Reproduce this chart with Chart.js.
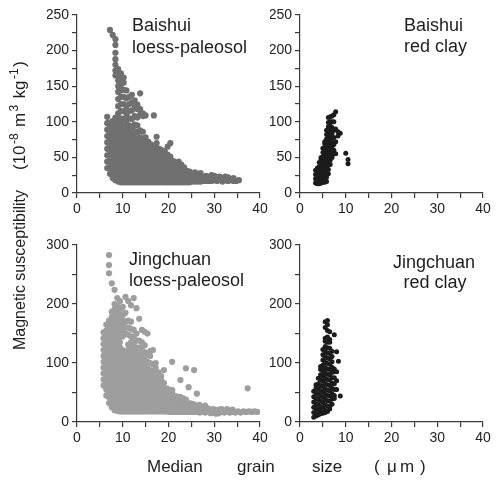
<!DOCTYPE html>
<html>
<head>
<meta charset="utf-8">
<script src="https://cdn.jsdelivr.net/npm/chart.js"></script>
<style>
  html, body { margin: 0; padding: 0; background: #fff; }
  #wrap { position: relative; width: 499px; height: 481px; }
  #wrap canvas { position: absolute; left: 0; top: 0; }
</style>
</head>
<body>
<div id="wrap">
  <canvas id="c1" width="499" height="481"></canvas>
  <canvas id="c2" width="499" height="481"></canvas>
  <canvas id="c3" width="499" height="481"></canvas>
  <canvas id="c4" width="499" height="481"></canvas>
</div>
<script>
// median grain size (x, um) columns and susceptibility values (y)
const bsLoessX = [6.6, 7.2, 7.8, 8.4, 9.0, 9.6, 10.2, 10.8, 11.4, 12.0, 12.6, 13.2, 13.8, 14.4, 15.0, 15.6, 16.2, 16.8, 17.4, 18.0, 18.6, 19.2, 19.8, 20.4, 21.0, 21.6, 22.2, 22.8, 23.4, 24.0, 24.6, 25.2, 25.8, 26.4, 27.0, 27.6, 28.2, 28.8, 29.4, 30.0, 30.6, 31.2, 31.8, 32.4, 33.0, 33.6, 34.2, 34.8, 35.4];
const bsLoessY = [
  [35,44,53,62,71,80,89,98,107],
  [27,35,43,51,59,67,75,83,91,99,229],
  [21,29,37,45,53,61,69,77,85,93,101,222],
  [18,26,34,42,50,58,66,74,82,90,98,106,165,172,180,188,197,208,216],
  [16,23,31,39,47,55,63,71,79,87,95,103,112,122,132,142,150,158,166,174],
  [15,19,26,33,41,49,57,65,73,81,89,97,105,115,125,135,144,152,160,168],
  [15,22,30,38,46,54,62,70,78,86,94,104,115,125,135,145,155,162],
  [15,19,27,35,43,51,59,67,75,83,92,101,111,122,133,144],
  [15,22,30,38,46,54,62,70,78,86,95,105,115,125,135],
  [15,19,27,35,43,51,59,67,75,83,92,104,116,127,138],
  [15,22,30,38,46,54,62,70,78,87,96,108,120,130],
  [15,19,27,35,43,51,59,67,75,85,95,106,118,124],
  [15,22,30,38,46,54,62,70,78,88,110,118,140],
  [15,19,27,35,43,51,59,67,76,86,108,112],
  [15,22,30,38,46,54,62,70,78,109],
  [15,19,27,35,43,51,59,67,72],
  [15,22,30,38,46,54,62,68],
  [15,19,27,35,43,51,59,65,109],
  [15,22,30,38,46,54,62,70,79],
  [15,19,27,35,43,51,59,62],
  [15,22,30,38,46,54,60],
  [15,19,27,35,43,51,58],
  [15,22,30,38,46,54,65],
  [15,19,27,35,43,51,70],
  [15,22,30,38,45],
  [15,19,27,35,40],
  [15,22,30,38,44],
  [15,19,27,35,40],
  [15,22,30,36],
  [15,19,27,31],
  [15,22,30],
  [16,20,27],
  [16,23,29],
  [16,21,26],
  [16,23,28],
  [17,22],
  [17,24],
  [17,22],
  [17,25],
  [18,24],
  [17,22],
  [18,23],
  [16,21],
  [18,23],
  [17,22],
  [18],
  [17,21],
  [17],
  [18]
];

const bsClayX = [3.4, 3.8, 4.2, 4.6, 5.0, 5.4, 5.8, 6.2, 6.6, 7.0, 7.4, 7.8, 8.3, 8.8, 10.0, 10.5];
const bsClayY = [
  [14,20,26,32],
  [13,17,23,29,35],
  [13,19,25,31,37,43],
  [14,17,23,29,35,41,47,50],
  [15,21,27,33,39,45,51,57,63],
  [15,18,21,27,33,39,45,51,57,63,69,72],
  [16,22,28,34,40,46,52,58,64,70,76,82,88],
  [27,33,39,45,51,57,63,69,75,81,87,93,99,106],
  [40,46,52,58,64,70,76,82,88,94,100,107],
  [50,53,59,65,71,77,84,92,100,108],
  [60,68,78,88,100,110],
  [55,72,90,114],
  [80,86],
  [84],
  [56],
  [41,47]
];

const jcLoessX = [5.8, 6.4, 7.0, 7.6, 8.2, 8.8, 9.4, 10.0, 10.6, 11.2, 11.8, 12.4, 13.0, 13.6, 14.2, 14.8, 15.4, 16.0, 16.6, 17.2, 17.8, 18.4, 19.0, 19.6, 20.2, 20.8, 21.4, 22.0, 22.6, 23.2, 23.8, 24.4, 25.0, 25.6, 26.2, 26.8, 27.4, 28.0, 28.6, 29.2, 29.8, 30.4, 31.0, 31.6, 32.2, 32.8, 33.4, 34.0, 34.6, 35.2, 35.8, 36.4, 37.0, 37.3, 37.6, 38.2, 38.8, 39.4];
const jcLoessY = [
  [62,72,82,92,102,112,122,132,142,152],
  [45,55,65,75,85,95,105,115,125,135,145,155,165],
  [32,42,52,62,72,82,92,102,112,122,132,142,152,162,172,252,266,283],
  [25,34,43,52,61,70,79,88,97,106,115,124,133,142,151,160,169,178,187,235],
  [20,29,38,47,56,65,74,83,92,101,110,119,128,137,146,155,164,173,182,191,200,224],
  [19,24,33,42,51,60,69,78,87,96,105,114,123,132,141,150,159,168,177,186,196,210],
  [18,27,36,45,54,63,72,81,90,99,108,117,126,135,144,153,162,171,180,190,205],
  [18,23,32,41,50,59,68,77,86,95,104,113,122,145,154,163,172,181,195],
  [18,27,36,45,54,63,72,81,90,99,108,117,150,160,170,185,212],
  [18,23,32,41,50,59,68,77,86,95,104,113,122,131,148,160,172,205],
  [18,27,36,45,54,63,72,81,90,99,108,117,126,135,145,158,170,198],
  [18,23,32,41,50,59,68,77,86,95,104,113,122,132,144,156,210],
  [18,27,36,45,54,63,72,81,90,99,108,117,126,138,150,193],
  [18,23,32,41,50,59,68,77,86,95,104,114,126,138,175],
  [18,27,36,45,54,63,72,81,90,99,110,122,135,156],
  [18,23,32,41,50,59,68,77,86,96,106,118,130,153],
  [18,27,36,45,54,63,72,81,91,102,115,150],
  [18,23,32,41,50,59,68,78,88,100,112,120],
  [18,27,36,45,54,63,73,85,98,122],
  [18,23,32,41,50,59,69,80,92,100],
  [18,27,36,45,54,64,76,84],
  [18,23,32,41,50,60,71,78],
  [18,27,36,45,55,66,88],
  [18,23,32,41,51,57],
  [17,26,35,45,55],
  [17,22,31,40,49,54,102],
  [17,26,35,44],
  [17,22,31,39,43],
  [17,26,35,42,71],
  [17,22,30,37,40],
  [17,25,33,38,91],
  [17,21,29,32,59],
  [17,25,31],
  [17,21,28,30,88],
  [17,24,48],
  [16,21,27,29],
  [17,23],
  [16,20,26,28],
  [17,23],
  [15,21],
  [16,22],
  [14,20],
  [15,21],
  [17,22],
  [16],
  [17,22],
  [16],
  [17,21],
  [16],
  [18],
  [16],
  [18],
  [17],
  [57],
  [18],
  [17],
  [18],
  [17]
];

const jcClayX = [3.0, 3.5, 4.0, 4.5, 5.0, 5.5, 6.0, 6.5, 7.0, 7.5, 8.0, 8.4, 8.8];
const jcClayY = [
  [8,16,25,34,43,52],
  [10,14,22,31,40,49,58,63],
  [12,20,29,38,47,56,65,74],
  [14,18,26,35,44,53,62,71,80,89,94],
  [15,24,33,42,51,60,69,78,87,96,105,114,123],
  [16,20,29,38,47,56,65,74,83,92,101,110,119,128,137,142,160,170],
  [18,27,36,45,54,63,72,81,90,99,108,117,126,135,144,155,165,172],
  [22,26,35,44,53,62,71,80,89,98,107,116,125,135,140,153],
  [30,39,48,57,66,75,84,93,102,111,120],
  [40,45,55,65,75,85,90,148],
  [55,70,85,119],
  [103],
  [44]
];

const xTicks = [0, 10, 20, 30, 40];

function toPoints(xs, ys) {
  const pts = [];
  xs.forEach((x, i) => ys[i].forEach(y => pts.push({ x: x, y: y })));
  return pts;
}

const W = 499, H = 481;
const axisColor = '#3a3a3a';
const tickFont = { family: 'Liberation Sans, Arial, sans-serif', size: 14 };

function textPlugin() {
  return {
    id: 'texts',
    afterDraw(chart) {
      const ctx = chart.ctx;
      ctx.save();
      ctx.fillStyle = '#1e1e1e';
      ctx.textBaseline = 'alphabetic';
      ctx.font = '18px "Liberation Sans", Arial, sans-serif';
      ctx.textAlign = 'left';
      ctx.fillText('Baishui', 132, 31);
      ctx.fillText('loess-paleosol', 132, 53);
      ctx.fillText('Baishui', 404, 31);
      ctx.fillText('red clay', 404, 52);
      ctx.fillText('Jingchuan', 129, 265);
      ctx.fillText('loess-paleosol', 129, 286);
      ctx.textAlign = 'center';
      ctx.fillText('Jingchuan', 434, 268);
      ctx.fillText('red clay', 435, 288);

      ctx.textAlign = 'left';
      ctx.font = '17px "Liberation Sans", Arial, sans-serif';
      ctx.fillText('Median', 147, 472);
      ctx.fillText('grain', 237, 472);
      ctx.fillText('size', 312, 472);
      ctx.fillText('(', 374, 472);
      ctx.fillText('\u03bc', 387, 472);
      ctx.fillText('m', 400, 472);
      ctx.fillText(')', 420, 472);

      // rotated y title
      ctx.translate(25, 350);
      ctx.rotate(-Math.PI / 2);
      ctx.font = '16px "Liberation Sans", Arial, sans-serif';
      ctx.fillText('Magnetic susceptibility', 0, 0);
      const segs = [
        ['(10', 17, 0], ['-8', 12, -7], [' m', 17, 0], ['3', 12, -7],
        [' kg', 17, 0], ['-1', 12, -7], [')', 17, 0]
      ];
      let px = 180;
      segs.forEach(s => {
        ctx.font = s[1] + 'px "Liberation Sans", Arial, sans-serif';
        ctx.fillText(s[0], px, s[2]);
        px += ctx.measureText(s[0]).width + 1.5;
      });
      ctx.restore();
    }
  };
}

function makePanel(id, pts, color, radius, area, yMax, yStep, withTexts) {
  const ctx = document.getElementById(id).getContext('2d');
  return new Chart(ctx, {
    type: 'scatter',
    data: {
      datasets: [{
        data: pts,
        backgroundColor: color,
        borderWidth: 0,
        pointRadius: radius,
        pointHoverRadius: radius
      }]
    },
    options: {
      responsive: false,
      animation: false,
      devicePixelRatio: 1,
      events: [],
      layout: {
        padding: {
          left: area.left - 30,
          right: W - area.right,
          top: area.top,
          bottom: H - area.bottom - 28
        }
      },
      plugins: { legend: { display: false }, tooltip: { enabled: false } },
      scales: {
        x: {
          type: 'linear',
          min: 0,
          max: 40,
          afterFit: s => { s.height = 28; },
          border: { display: true, color: axisColor, width: 1.2 },
          grid: { drawOnChartArea: false, drawTicks: true, tickLength: 5, color: axisColor, lineWidth: 1.2 },
          ticks: {
            stepSize: 5,
            autoSkip: false,
            maxRotation: 0,
            padding: 3,
            color: '#222',
            font: tickFont,
            callback: v => xTicks.includes(v) ? String(v) : ''
          }
        },
        y: {
          min: 0,
          max: yMax,
          afterFit: s => { s.width = 30; },
          border: { display: true, color: axisColor, width: 1.2 },
          grid: { drawOnChartArea: false, drawTicks: true, tickLength: 5, color: axisColor, lineWidth: 1.2 },
          ticks: {
            stepSize: yStep / 2,
            autoSkip: false,
            padding: 3,
            color: '#222',
            font: tickFont,
            callback: v => v % yStep === 0 ? String(v) : ''
          }
        }
      }
    },
    plugins: withTexts ? [textPlugin()] : []
  });
}

makePanel('c1', toPoints(bsLoessX, bsLoessY), '#707070', 3.1,
  { left: 77, right: 260, top: 15, bottom: 193 }, 250, 50, false);
makePanel('c2', toPoints(bsClayX, bsClayY), '#1c1c1c', 2.5,
  { left: 300, right: 483, top: 15, bottom: 193 }, 250, 50, false);
makePanel('c3', toPoints(jcLoessX, jcLoessY), '#9e9e9e', 3.1,
  { left: 77, right: 260, top: 245, bottom: 422 }, 300, 100, false);
makePanel('c4', toPoints(jcClayX, jcClayY), '#1c1c1c', 2.5,
  { left: 300, right: 483, top: 245, bottom: 422 }, 300, 100, true);
</script>
</body>
</html>
